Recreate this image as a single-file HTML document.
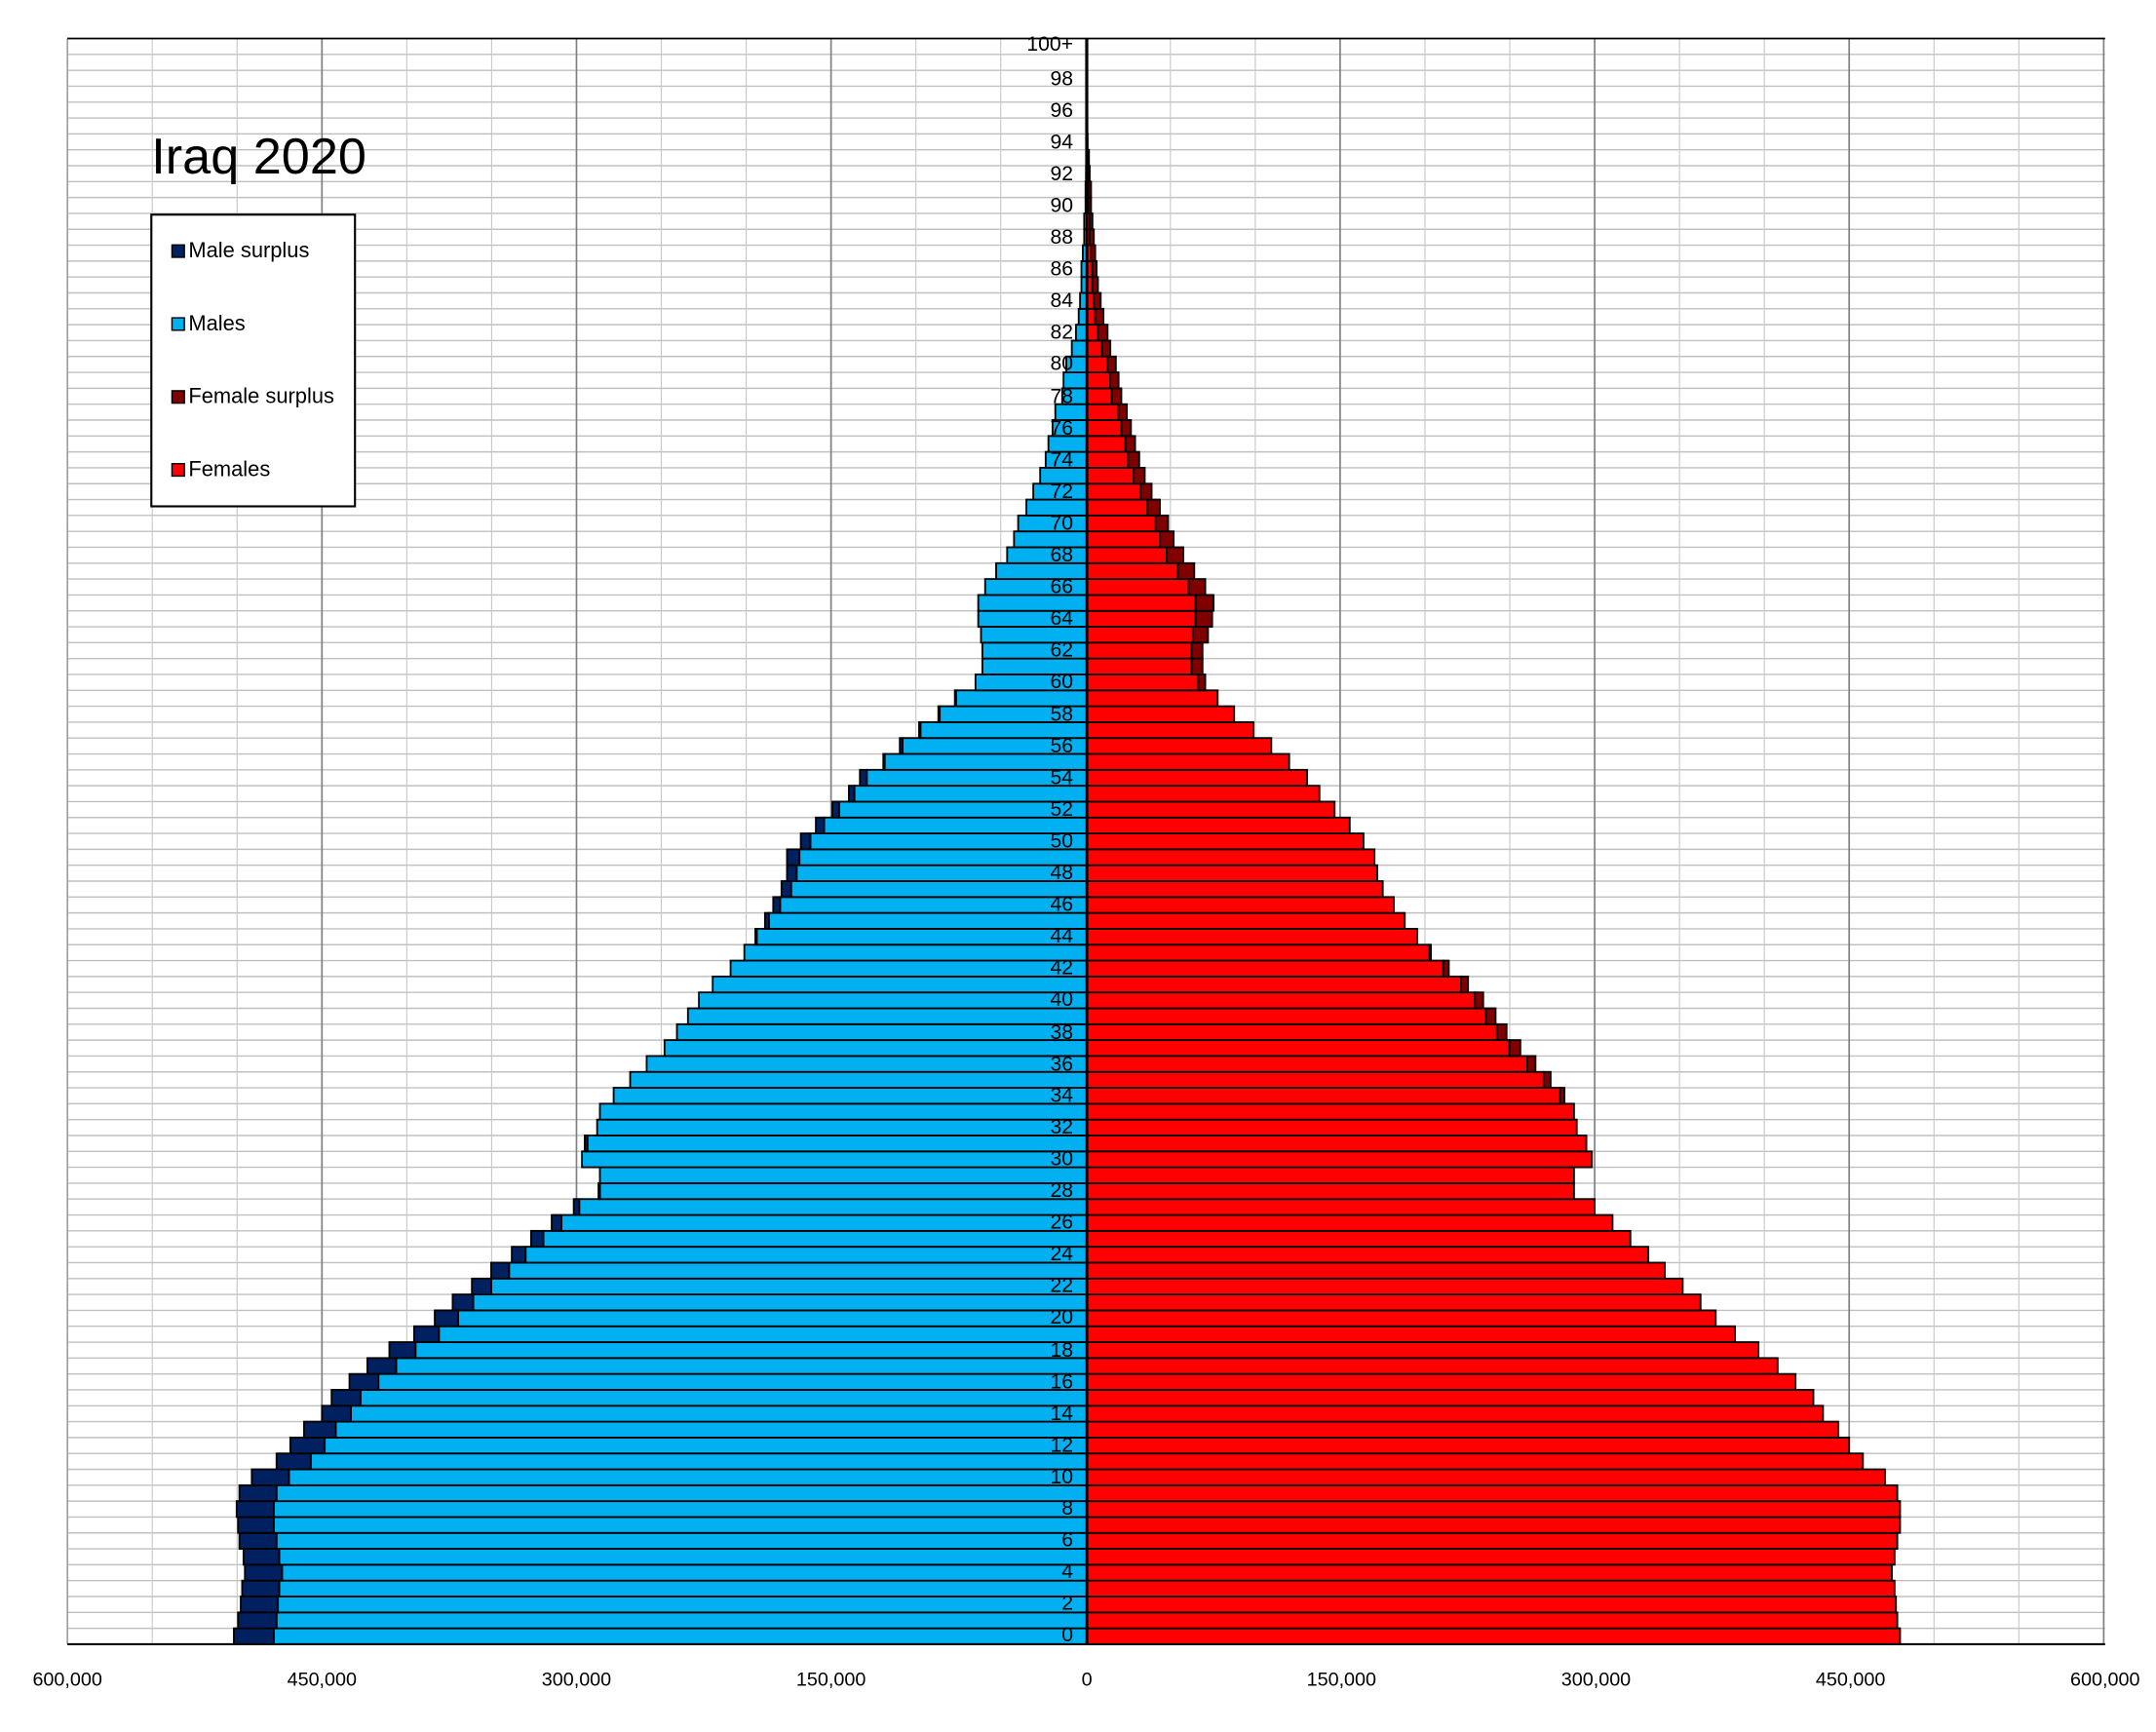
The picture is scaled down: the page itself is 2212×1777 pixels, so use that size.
<!DOCTYPE html>
<html><head><meta charset="utf-8"><style>
html,body{margin:0;padding:0;background:#fff;}
svg{display:block;}
text{font-family:"Liberation Sans",Arial,sans-serif;fill:#000;}
</style></head><body>
<svg id="s" width="2212" height="1777" viewBox="0 0 1567 1258.8" preserveAspectRatio="none">
<rect x="0" y="0" width="1567" height="1259" fill="#fff"/>
<g id="grid"></g>
<g id="bars"></g>
<line x1="790" y1="28" x2="790" y2="1195" stroke="#000" stroke-width="2"/>
<line x1="49" y1="28" x2="1530" y2="28" stroke="#000" stroke-width="1.2"/>
<line x1="49" y1="1195" x2="1530" y2="1195" stroke="#000" stroke-width="1.5"/>
<text x="110" y="126" font-size="37">Iraq 2020</text>
<rect x="110" y="156" width="148" height="212" fill="#fff" stroke="#000" stroke-width="1.5"/>
<rect x="125" y="178" width="9" height="9" fill="#002060" stroke="#000" stroke-width="1"/>
<text x="137" y="187" font-size="15.5">Male surplus</text>
<rect x="125" y="231" width="9" height="9" fill="#00B0F0" stroke="#000" stroke-width="1"/>
<text x="137" y="240" font-size="15.5">Males</text>
<rect x="125" y="284" width="9" height="9" fill="#800000" stroke="#000" stroke-width="1"/>
<text x="137" y="293" font-size="15.5">Female surplus</text>
<rect x="125" y="337" width="9" height="9" fill="#FF0000" stroke="#000" stroke-width="1"/>
<text x="137" y="346" font-size="15.5">Females</text>
<g font-size="15" text-anchor="end" transform="translate(0,-2)">
<text x="780" y="1195">0</text><text x="780" y="1172">2</text><text x="780" y="1149">4</text><text x="780" y="1126">6</text><text x="780" y="1103">8</text>
<text x="780" y="1080">10</text><text x="780" y="1057">12</text><text x="780" y="1034">14</text><text x="780" y="1011">16</text><text x="780" y="988">18</text>
<text x="780" y="964">20</text><text x="780" y="941">22</text><text x="780" y="918">24</text><text x="780" y="895">26</text><text x="780" y="872">28</text>
<text x="780" y="849">30</text><text x="780" y="826">32</text><text x="780" y="803">34</text><text x="780" y="780">36</text><text x="780" y="757">38</text>
<text x="780" y="733">40</text><text x="780" y="710">42</text><text x="780" y="687">44</text><text x="780" y="664">46</text><text x="780" y="641">48</text>
<text x="780" y="618">50</text><text x="780" y="595">52</text><text x="780" y="572">54</text><text x="780" y="549">56</text><text x="780" y="526">58</text>
<text x="780" y="502">60</text><text x="780" y="479">62</text><text x="780" y="456">64</text><text x="780" y="433">66</text><text x="780" y="410">68</text>
<text x="780" y="387">70</text><text x="780" y="364">72</text><text x="780" y="341">74</text><text x="780" y="318">76</text><text x="780" y="295">78</text>
<text x="780" y="271">80</text><text x="780" y="248">82</text><text x="780" y="225">84</text><text x="780" y="202">86</text><text x="780" y="179">88</text>
<text x="780" y="156">90</text><text x="780" y="133">92</text><text x="780" y="110">94</text><text x="780" y="87">96</text><text x="780" y="64">98</text>
<text x="780" y="39">100+</text>
</g>
<g font-size="14" text-anchor="middle">
<text x="49" y="1225">600,000</text><text x="234" y="1225">450,000</text><text x="419" y="1225">300,000</text><text x="604" y="1225">150,000</text>
<text x="790" y="1225">0</text><text x="975" y="1225">150,000</text><text x="1160" y="1225">300,000</text><text x="1345" y="1225">450,000</text><text x="1530" y="1225">600,000</text>
</g>
</svg>
<script>
(function(){
var NS="http://www.w3.org/2000/svg";
function el(p,t,a){var e=document.createElementNS(NS,t);for(var k in a)e.setAttribute(k,a[k]);p.appendChild(e);return e;}
var g=document.getElementById('grid'),b=document.getElementById('bars');
var rh=(1195-28)/101;
for(var i=0;i<=101;i++){var y=28+i*rh;el(g,'line',{x1:49,x2:1530,y1:y,y2:y,stroke:'#c0c0c0','stroke-width':1});}
for(var j=0;j<=24;j++){var x=49+j*740/12;var major=(j%3==0);
el(g,'line',{x1:x,x2:x,y1:28,y2:1195,stroke:major?(j==0?'#a0a0a0':'#808080'):'#c8c8c8','stroke-width':major?1.2:0.8});}
var M=[170,173,175,176,178,177,174,173,172,174,183,201,211,221,234,241,254,267,283,301,316,329,343,357,372,386,401,417,435,436,423,425,434,436,446,458,470,483,492,500,508,518,531,541,549,556,562,568,572,572,582,593,605,617,625,642,654,668,682,694,709,714,714,713,711,711,716,724,732,737,740,746,751,756,760,762,765,767,772,773,775,779,782,784,785,786,786,787,788,788,789,789,789.5,790,790,790,790,790,790,790,790];
var F=[1381,1379,1378,1377,1375,1377,1379,1381,1381,1379,1370,1354,1344,1336,1325,1318,1305,1292,1278,1261,1247,1236,1223,1210,1198,1185,1172,1159,1144,1144,1157,1153,1146,1144,1137,1127,1116,1105,1095,1087,1078,1067,1053,1040,1030,1021,1013,1005,1001,999,991,981,970,959,950,937,924,911,897,885,876,874,874,878,881,882,876,868,860,853,849,843,837,832,828,825,822,819,815,813,811,807,805,802,800,798,797,796,795,794,793,793,792,791.5,790.5,790.3,790.2,790.1,790.1,790,790];
for(var a=0;a<=100;a++){
var y=1195-(a+1)*rh, m=790-M[a], f=F[a]-790, mn=Math.min(m,f);
var st={stroke:'#000','stroke-width':1.3};
function r(x,w,c){if(w<=0.05)return;var o={x:x,y:y,width:w,height:rh,fill:c};for(var k in st)o[k]=st[k];el(b,'rect',o);}
r(790-mn,mn,'#00B0F0');
if(m>mn)r(790-m,m-mn,'#002060');
r(790,mn,'#FF0000');
if(f>mn)r(790+mn,f-mn,'#800000');
}
})();
</script>
</body></html>
